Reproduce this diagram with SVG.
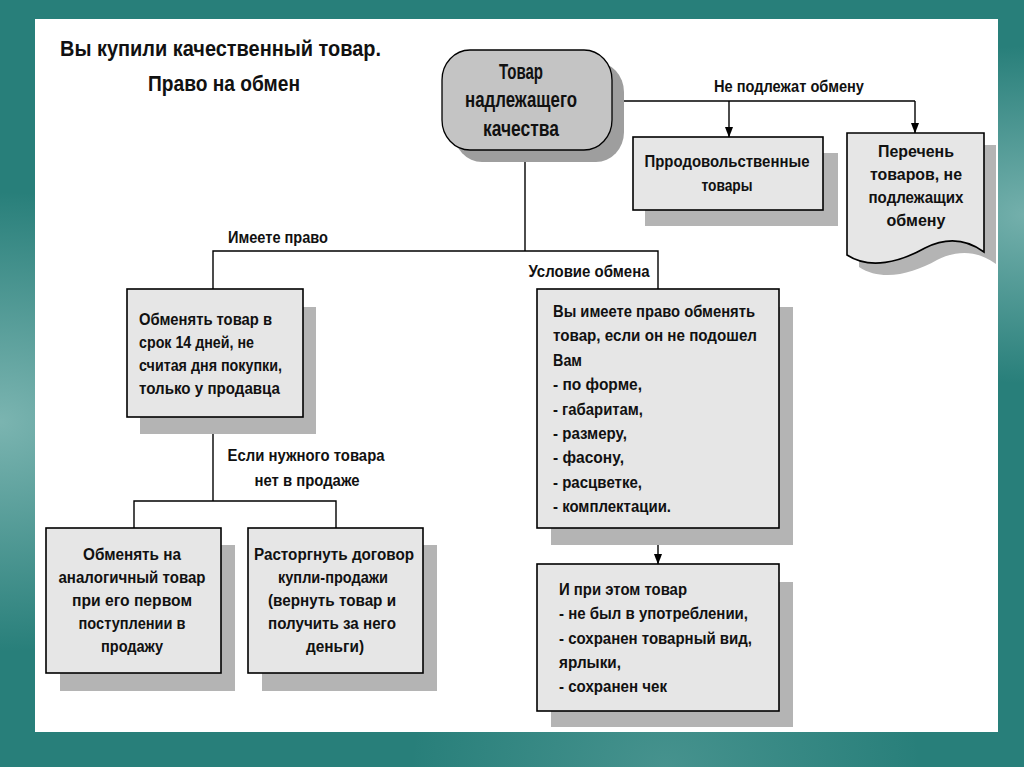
<svg xmlns="http://www.w3.org/2000/svg" width="1024" height="767" viewBox="0 0 1024 767">
<defs>
<radialGradient id="gl" cx="0" cy="0.55" r="0.3"><stop offset="0" stop-color="#bfe0dd" stop-opacity="0.55"/><stop offset="1" stop-color="#bfe0dd" stop-opacity="0"/></radialGradient>
<radialGradient id="gr" cx="1" cy="0.28" r="0.22"><stop offset="0" stop-color="#bfe0dd" stop-opacity="0.5"/><stop offset="1" stop-color="#bfe0dd" stop-opacity="0"/></radialGradient>
<radialGradient id="gb" cx="0.65" cy="1" r="0.25"><stop offset="0" stop-color="#bfe0dd" stop-opacity="0.2"/><stop offset="1" stop-color="#bfe0dd" stop-opacity="0"/></radialGradient>
<marker id="arr" markerUnits="userSpaceOnUse" markerWidth="11" markerHeight="9" refX="10" refY="4.5" orient="auto" viewBox="0 0 11 9"><path d="M0,0.5 L10.5,4.5 L0,8.5 Z" fill="#000"/></marker>
<style>
.t{font-family:"Liberation Sans Narrow","Liberation Sans",Arial,sans-serif;font-weight:bold;fill:#111;}
.s16{font-size:16px;}
.s22{font-size:22px;}
.m{text-anchor:middle;}
.box{fill:#e6e6e6;stroke:#000;stroke-width:1.6;}
.sh{fill:#b4b4b4;}
.ln{fill:none;stroke:#000;stroke-width:1.4;}
</style>
</defs>
<rect x="0" y="0" width="1024" height="767" fill="#287f7a"/>
<rect x="0" y="0" width="1024" height="767" fill="url(#gl)"/>
<rect x="0" y="0" width="1024" height="767" fill="url(#gr)"/>
<rect x="0" y="0" width="1024" height="767" fill="url(#gb)"/>
<rect x="35" y="19" width="963" height="713" fill="#ffffff"/>

<g id="title">
<text class="t s22" x="60" y="56" textLength="321" lengthAdjust="spacingAndGlyphs">Вы купили качественный товар.</text>
<text class="t s22" x="148" y="91" textLength="152" lengthAdjust="spacingAndGlyphs">Право на обмен</text>
</g>

<g id="connectors">
<path class="ln" d="M612,101 H915"/>
<path class="ln" d="M729,101 V137" marker-end="url(#arr)"/>
<path class="ln" d="M915,101 V133" marker-end="url(#arr)"/>
<path class="ln" d="M525,150 V251"/>
<path class="ln" d="M213,289 V251 H658 V289"/>
<path class="ln" d="M213,417 V501"/>
<path class="ln" d="M134,528 V501 H336 V528"/>
<path class="ln" d="M658,528 V564" marker-end="url(#arr)"/>
<text class="t s16 m" x="789" y="92" textLength="150" lengthAdjust="spacingAndGlyphs">Не подлежат обмену</text>
<text class="t s16 m" x="278" y="243" textLength="100" lengthAdjust="spacingAndGlyphs">Имеете право</text>
<text class="t s16 m" x="589" y="277" textLength="121" lengthAdjust="spacingAndGlyphs">Условие обмена</text>
<text class="t s16 m" x="306" y="461" textLength="157" lengthAdjust="spacingAndGlyphs">Если нужного товара</text>
<text class="t s16 m" x="307" y="486" textLength="105" lengthAdjust="spacingAndGlyphs">нет в продаже</text>
</g>

<g id="node-top">
<rect x="454" y="62" width="170" height="100" rx="28" ry="30" fill="#9e9e9e"/>
<rect x="442" y="50" width="170" height="100" rx="28" ry="30" fill="#c4c4c4" stroke="#000" stroke-width="1.3"/>
<text class="t s22 m" x="521" y="79" textLength="44" lengthAdjust="spacingAndGlyphs">Товар</text>
<text class="t s22 m" x="521" y="107" textLength="112" lengthAdjust="spacingAndGlyphs">надлежащего</text>
<text class="t s22 m" x="521" y="136" textLength="76" lengthAdjust="spacingAndGlyphs">качества</text>
</g>

<g id="node-food">
<rect class="sh" x="645" y="153" width="193" height="73"/>
<rect class="box" x="633" y="137" width="190" height="73"/>
<text class="t s16 m" x="727" y="167" textLength="165" lengthAdjust="spacingAndGlyphs">Прродовольственные</text>
<text class="t s16 m" x="727" y="191" textLength="51" lengthAdjust="spacingAndGlyphs">товары</text>
</g>

<g id="node-list">
<path class="sh" d="M859,145 H996 V264 C977,250 957,250 937,260 C912,274 882,282 859,267 Z"/>
<path class="box" d="M847,133 H984 V252 C965,238 945,238 925,248 C900,262 870,270 847,255 Z"/>
<text class="t s16 m" x="916" y="157" textLength="76" lengthAdjust="spacingAndGlyphs">Перечень</text>
<text class="t s16 m" x="916" y="180" textLength="92" lengthAdjust="spacingAndGlyphs">товаров, не</text>
<text class="t s16 m" x="916" y="203" textLength="95" lengthAdjust="spacingAndGlyphs">подлежащих</text>
<text class="t s16 m" x="916" y="226" textLength="59" lengthAdjust="spacingAndGlyphs">обмену</text>
</g>

<g id="node-14days">
<rect class="sh" x="140" y="307" width="176" height="127"/>
<rect class="box" x="127" y="289" width="176" height="128"/>
<text class="t s16" x="139" y="325" textLength="133" lengthAdjust="spacingAndGlyphs">Обменять товар в</text>
<text class="t s16" x="139" y="348" textLength="115" lengthAdjust="spacingAndGlyphs">срок 14 дней, не</text>
<text class="t s16" x="139" y="371" textLength="143" lengthAdjust="spacingAndGlyphs">считая дня покупки,</text>
<text class="t s16" x="139" y="394" textLength="141" lengthAdjust="spacingAndGlyphs">только у продавца</text>
</g>

<g id="node-analog">
<rect class="sh" x="60" y="545" width="175" height="146"/>
<rect class="box" x="46" y="528" width="175" height="145"/>
<text class="t s16 m" x="132" y="560" textLength="98" lengthAdjust="spacingAndGlyphs">Обменять на</text>
<text class="t s16 m" x="132" y="583" textLength="147" lengthAdjust="spacingAndGlyphs">аналогичный товар</text>
<text class="t s16 m" x="132" y="606" textLength="120" lengthAdjust="spacingAndGlyphs">при его первом</text>
<text class="t s16 m" x="132" y="629" textLength="107" lengthAdjust="spacingAndGlyphs">поступлении в</text>
<text class="t s16 m" x="132" y="652" textLength="62" lengthAdjust="spacingAndGlyphs">продажу</text>
</g>

<g id="node-cancel">
<rect class="sh" x="262" y="545" width="175" height="146"/>
<rect class="box" x="248" y="528" width="175" height="145"/>
<text class="t s16 m" x="334" y="560" textLength="160" lengthAdjust="spacingAndGlyphs">Расторгнуть договор</text>
<text class="t s16 m" x="333" y="583" textLength="110" lengthAdjust="spacingAndGlyphs">купли-продажи</text>
<text class="t s16 m" x="332" y="606" textLength="128" lengthAdjust="spacingAndGlyphs">(вернуть товар и</text>
<text class="t s16 m" x="332" y="629" textLength="128" lengthAdjust="spacingAndGlyphs">получить за него</text>
<text class="t s16 m" x="335" y="652" textLength="58" lengthAdjust="spacingAndGlyphs">деньги)</text>
</g>

<g id="node-condition">
<rect class="sh" x="551" y="307" width="242" height="238"/>
<rect class="box" x="537" y="289" width="242" height="239"/>
<text class="t s16" x="553" y="317" textLength="202" lengthAdjust="spacingAndGlyphs">Вы имеете право обменять</text>
<text class="t s16" x="553" y="341" textLength="204" lengthAdjust="spacingAndGlyphs">товар,  если он не подошел</text>
<text class="t s16" x="553" y="366" textLength="29" lengthAdjust="spacingAndGlyphs">Вам</text>
<text class="t s16" x="553" y="390" textLength="89" lengthAdjust="spacingAndGlyphs">- по форме,</text>
<text class="t s16" x="553" y="415" textLength="90" lengthAdjust="spacingAndGlyphs">- габаритам,</text>
<text class="t s16" x="553" y="439" textLength="74" lengthAdjust="spacingAndGlyphs">- размеру,</text>
<text class="t s16" x="553" y="463" textLength="71" lengthAdjust="spacingAndGlyphs">- фасону,</text>
<text class="t s16" x="553" y="488" textLength="89" lengthAdjust="spacingAndGlyphs">- расцветке,</text>
<text class="t s16" x="553" y="512" textLength="118" lengthAdjust="spacingAndGlyphs">- комплектации.</text>
</g>

<g id="node-also">
<rect class="sh" x="551" y="582" width="242" height="145"/>
<rect class="box" x="537" y="564" width="242" height="147"/>
<text class="t s16" x="559" y="595" textLength="128" lengthAdjust="spacingAndGlyphs">И при этом товар</text>
<text class="t s16" x="559" y="619" textLength="189" lengthAdjust="spacingAndGlyphs">- не был в употреблении,</text>
<text class="t s16" x="559" y="644" textLength="193" lengthAdjust="spacingAndGlyphs">- сохранен товарный вид,</text>
<text class="t s16" x="559" y="668" textLength="62" lengthAdjust="spacingAndGlyphs">ярлыки,</text>
<text class="t s16" x="559" y="692" textLength="108" lengthAdjust="spacingAndGlyphs">- сохранен чек</text>
</g>
</svg>
